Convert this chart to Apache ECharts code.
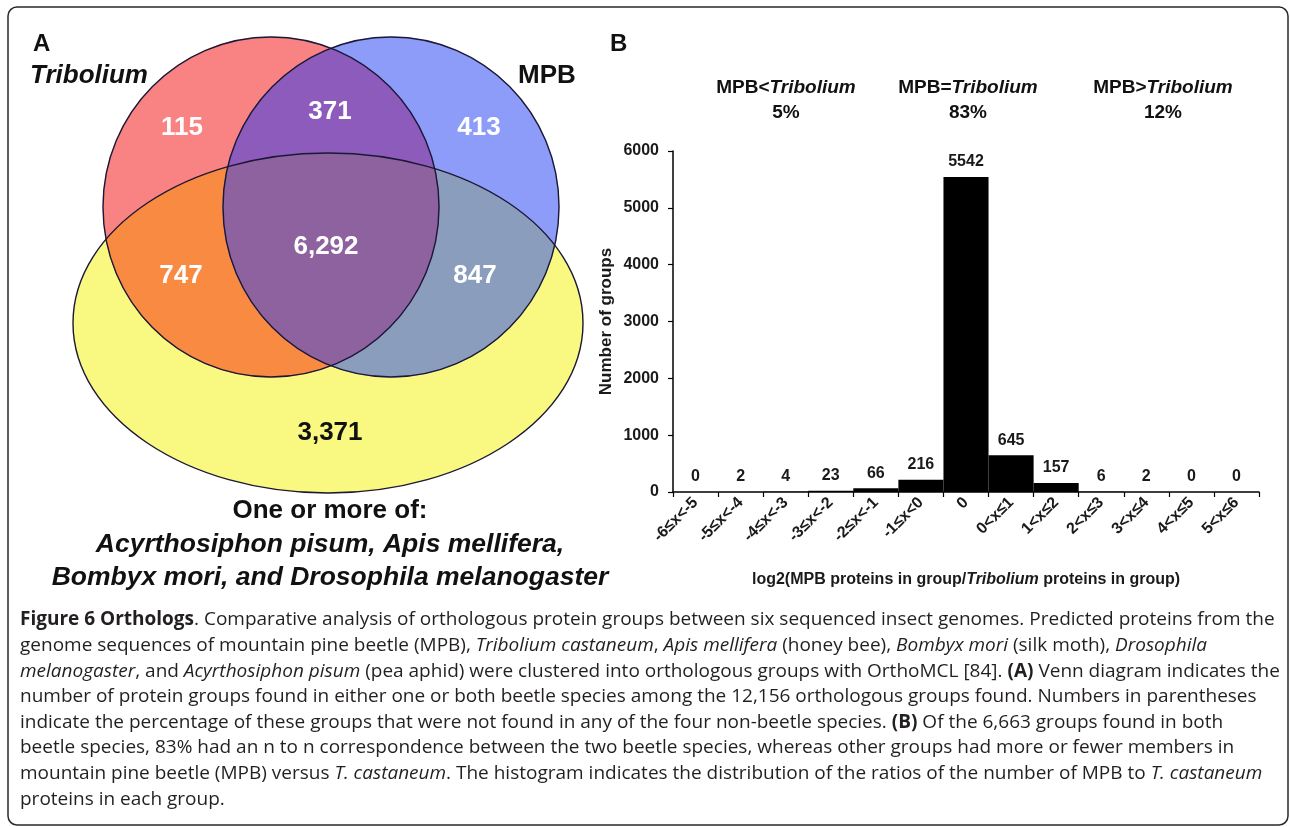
<!DOCTYPE html>
<html><head><meta charset="utf-8">
<script src="https://cdn.jsdelivr.net/npm/echarts@6/dist/echarts.min.js"></script>
<style>html,body{margin:0;padding:0;background:#fff}#c{width:1290px;height:827px}</style>
</head><body><div id="c"></div>
<script>
// ---------------- DATA ----------------
const categories = ['-6≤x<-5','-5≤x<-4','-4≤x<-3','-3≤x<-2','-2≤x<-1','-1≤x<0','0','0<x≤1','1<x≤2','2<x≤3','3<x≤4','4<x≤5','5<x≤6'];
const groupCounts = [0, 2, 4, 23, 66, 216, 5542, 645, 157, 6, 2, 0, 0];
const yTickStep = 1000;
const yMax = 6000;
const ratioHeaders = ['MPB<', 'MPB=', 'MPB>'];
const ratioPercents = ['5%', '83%', '12%'];
const vennRegionNames = ['Tribolium only', 'Tribolium & MPB only', 'MPB only', 'all three', 'Tribolium & others', 'MPB & others', 'others only'];
const vennCounts = ['115', '371', '413', '6,292', '747', '847', '3,371'];
const captionLines = [
  '{b|Figure 6 Orthologs}{n|. Comparative analysis of orthologous protein groups between six sequenced insect genomes. Predicted proteins from the}',
  '{n|genome sequences of mountain pine beetle (MPB), }{i|Tribolium castaneum}{n|, }{i|Apis mellifera}{n| (honey bee), }{i|Bombyx mori}{n| (silk moth), }{i|Drosophila}',
  '{i|melanogaster}{n|, and }{i|Acyrthosiphon pisum}{n| (pea aphid) were clustered into orthologous groups with OrthoMCL [84]. }{b|(A)}{n| Venn diagram indicates the}',
  '{n|number of protein groups found in either one or both beetle species among the 12,156 orthologous groups found. Numbers in parentheses}',
  '{n|indicate the percentage of these groups that were not found in any of the four non-beetle species. }{b|(B)}{n| Of the 6,663 groups found in both}',
  '{n|beetle species, 83% had an n to n correspondence between the two beetle species, whereas other groups had more or fewer members in}',
  '{n|mountain pine beetle (MPB) versus }{i|T. castaneum}{n|. The histogram indicates the distribution of the ratios of the number of MPB to }{i|T. castaneum}',
  '{n|proteins in each group.}'
];

// ---------------- LAYOUT (not data) ----------------
const L = {
  red:    {cx: 271, cy: 207, rx: 168, ry: 170},
  blue:   {cx: 391, cy: 207, rx: 168, ry: 170},
  yellow: {cx: 328, cy: 323, rx: 255, ry: 170},
  labelPos: [[182,128],[330,112],[479,128],[326,247],[181,276],[475,276],[330,433]],
  labelColor: ['#fff','#fff','#fff','#fff','#fff','#fff','#111'],
  headerX: [786, 968, 1163],
  captionX: 20, captionY0: 620, captionDy: 25.6
};
const COL = {
  red: '#F98282', blue: '#8C9CF8', yellow: '#F9F981',
  ry: '#F98A41', rb: '#8D5BBB', by: '#8A9DBD', rby: '#8D629F', stroke: '#1b1836'
};
const FONT = '"Liberation Sans", Arial, Helvetica, sans-serif';

function ellipsePts(e, n) {
  n = n || 360; const p = [];
  for (let i = 0; i < n; i++) { const t = 2 * Math.PI * i / n; p.push([e.cx + e.rx * Math.cos(t), e.cy + e.ry * Math.sin(t)]); }
  return p;
}
function signedArea(p) { let a = 0; for (let i = 0; i < p.length; i++) { const q = p[(i + 1) % p.length]; a += p[i][0] * q[1] - q[0] * p[i][1]; } return a / 2; }
function clip(subject, clipPoly) {
  let output = subject;
  const s = signedArea(clipPoly) > 0 ? 1 : -1;
  for (let i = 0; i < clipPoly.length; i++) {
    const A = clipPoly[i], B = clipPoly[(i + 1) % clipPoly.length];
    const input = output; output = [];
    if (!input.length) break;
    const inside = P => s * ((B[0] - A[0]) * (P[1] - A[1]) - (B[1] - A[1]) * (P[0] - A[0])) >= 0;
    const inter = (P, Q) => {
      const a1 = B[1] - A[1], b1 = A[0] - B[0], c1 = a1 * A[0] + b1 * A[1];
      const a2 = Q[1] - P[1], b2 = P[0] - Q[0], c2 = a2 * P[0] + b2 * P[1];
      const d = a1 * b2 - a2 * b1;
      return [(b2 * c1 - b1 * c2) / d, (a1 * c2 - a2 * c1) / d];
    };
    for (let j = 0; j < input.length; j++) {
      const P = input[j], Q = input[(j + 1) % input.length];
      const pin = inside(P), qin = inside(Q);
      if (qin) { if (!pin) output.push(inter(P, Q)); output.push(Q); }
      else if (pin) output.push(inter(P, Q));
    }
  }
  return output;
}
const R = ellipsePts(L.red), B = ellipsePts(L.blue), Y = ellipsePts(L.yellow);
const poly = (pts, fill) => ({type: 'polygon', silent: true, shape: {points: pts}, style: {fill: fill, stroke: fill, lineWidth: 0.5}});
const outline = e => ({type: 'ellipse', silent: true, shape: e, style: {fill: null, stroke: COL.stroke, lineWidth: 1.4}});

const graphics = [
  {type: 'rect', silent: true, shape: {x: 8, y: 7, width: 1280, height: 818, r: 9}, style: {fill: null, stroke: '#2a2a2a', lineWidth: 1.5}},
  poly(Y, COL.yellow), poly(R, COL.red), poly(B, COL.blue),
  poly(clip(R, Y), COL.ry), poly(clip(B, Y), COL.by), poly(clip(R, B), COL.rb),
  poly(clip(clip(R, B), Y), COL.rby),
  outline(L.yellow), outline(L.red), outline(L.blue)
];
vennCounts.forEach((v, i) => graphics.push({type: 'text', silent: true, style: {text: v, x: L.labelPos[i][0], y: L.labelPos[i][1], align: 'center', verticalAlign: 'middle', fill: L.labelColor[i], font: 'bold 26px ' + FONT}}));
const txt = (t, x, y, font, align) => ({type: 'text', silent: true, style: {text: t, x: x, y: y, align: align || 'center', verticalAlign: 'middle', fill: '#111', font: font}});
graphics.push(txt('A', 33, 44, 'bold 24px ' + FONT, 'left'));
graphics.push(txt('B', 610, 44, 'bold 24px ' + FONT, 'left'));
graphics.push(txt('Tribolium', 30, 76, 'italic bold 26px ' + FONT, 'left'));
graphics.push(txt('MPB', 518, 76, 'bold 26px ' + FONT, 'left'));
graphics.push(txt('One or more of:', 330, 511, 'bold 26px ' + FONT));
graphics.push(txt('Acyrthosiphon pisum, Apis mellifera,', 330, 545, 'italic bold 26.5px ' + FONT));
graphics.push(txt('Bombyx mori, and Drosophila melanogaster', 330, 578, 'italic bold 26.5px ' + FONT));
ratioHeaders.forEach((h, i) => {
  graphics.push({type: 'text', silent: true, style: {text: '{n|' + h + '}{i|Tribolium}', x: L.headerX[i], y: 88, align: 'center', verticalAlign: 'middle',
    rich: {n: {font: 'bold 19px ' + FONT, fill: '#111'}, i: {font: 'italic bold 19px ' + FONT, fill: '#111'}}}});
  graphics.push(txt(ratioPercents[i], L.headerX[i], 113, 'bold 19px ' + FONT));
});
const CAPF = '"Open Sans", "Noto Sans", sans-serif';
const CS = '19px ';
captionLines.forEach((line, i) => {
  graphics.push({type: 'text', silent: true, style: {text: line, x: L.captionX, y: L.captionY0 + i * L.captionDy, align: 'left', verticalAlign: 'middle',
    rich: {
      n: {font: CS + CAPF, fill: '#231f20'},
      i: {font: 'italic ' + CS + CAPF, fill: '#231f20'},
      b: {font: 'bold ' + CS + CAPF, fill: '#231f20'}
    }}});
});

const chart = echarts.init(document.getElementById('c'), null, {renderer: 'canvas'});
chart.setOption({
  animation: false,
  backgroundColor: '#fff',
  grid: {left: 673, right: 31, top: 151, bottom: 335, containLabel: false},
  xAxis: {
    type: 'category', data: categories, boundaryGap: true,
    axisLine: {lineStyle: {color: '#000', width: 1.5}},
    axisTick: {show: true, length: 5, lineStyle: {color: '#000', width: 1.2}},
    axisLabel: {rotate: 45, margin: 8, interval: 0, color: '#1a1a1a', fontFamily: FONT, fontWeight: 'bold', fontSize: 16},
    name: '{n|log2(MPB proteins in group/}{i|Tribolium}{n| proteins in group)}',
    nameLocation: 'middle', nameGap: 80,
    nameTextStyle: {rich: {
      n: {fontFamily: FONT, fontWeight: 'bold', fontSize: 16, color: '#1a1a1a'},
      i: {fontFamily: FONT, fontWeight: 'bold', fontStyle: 'italic', fontSize: 16, color: '#1a1a1a'}
    }}
  },
  yAxis: {
    type: 'value', min: 0, max: yMax, interval: yTickStep,
    axisLine: {show: true, lineStyle: {color: '#000', width: 1.5}},
    axisTick: {show: true, length: 5, lineStyle: {color: '#000', width: 1.2}},
    splitLine: {show: false},
    axisLabel: {margin: 14, color: '#1a1a1a', fontFamily: FONT, fontWeight: 'bold', fontSize: 16, formatter: v => String(v)},
    name: 'Number of groups', nameLocation: 'middle', nameGap: 58, nameRotate: 90,
    nameTextStyle: {fontFamily: FONT, fontWeight: 'bold', fontSize: 17, color: '#1a1a1a'}
  },
  series: [{
    type: 'bar', data: groupCounts, barWidth: '100%', barCategoryGap: 0,
    itemStyle: {color: '#000'},
    label: {show: true, position: 'top', distance: 7, color: '#1a1a1a', fontFamily: FONT, fontWeight: 'bold', fontSize: 16}
  }],
  graphic: graphics
});
</script>
</body></html>
